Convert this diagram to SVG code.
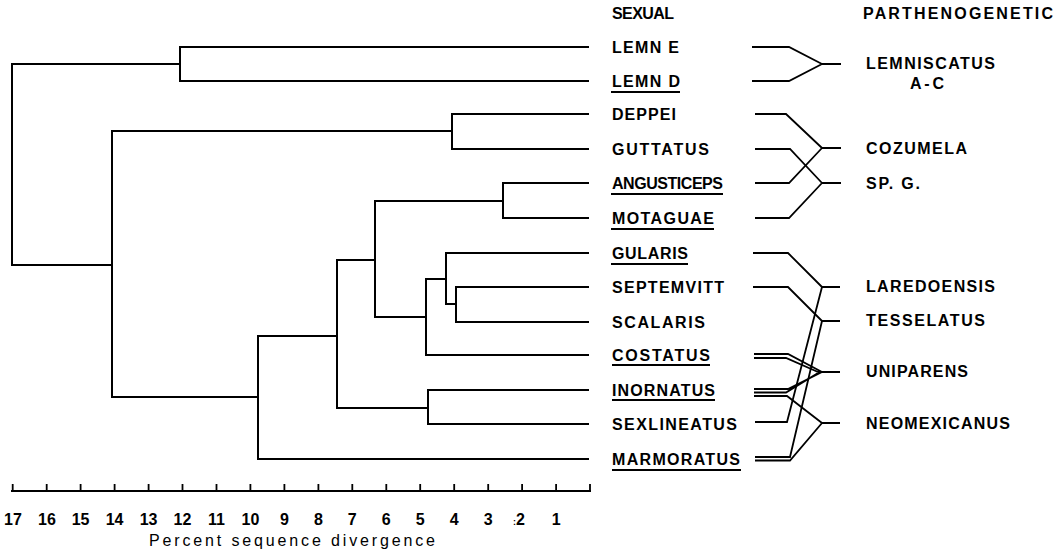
<svg xmlns="http://www.w3.org/2000/svg" width="1056" height="555" viewBox="0 0 1056 555">
<style>
.ln{fill:none;stroke:#000;stroke-width:2;stroke-linejoin:miter;stroke-linecap:square}
.cn{fill:none;stroke:#000;stroke-width:1.8;stroke-linejoin:miter}
.ul{fill:none;stroke:#000;stroke-width:1.8}
text{font-family:"Liberation Sans",Arial,sans-serif;font-weight:bold;font-size:16px;fill:#000}
.ax{text-anchor:middle;font-size:16px}
.tt{font-weight:normal;font-size:16px}
</style>
<rect width="1056" height="555" fill="#fff"/>
<g id="connectors">
<g id="tree">
<path class="ln" d="M12,64 V265 M12,64 H180 M12,265 H112"/>
<path class="ln" d="M180,47 V81 M180,47 H588 M180,81 H588"/>
<path class="ln" d="M112,131 V397 M112,131 H452 M112,397 H258"/>
<path class="ln" d="M452,114 V149 M452,114 H588 M452,149 H588"/>
<path class="ln" d="M258,336 V459 M258,336 H337 M258,459 H588"/>
<path class="ln" d="M337,260 V408 M337,260 H375 M337,408 H428"/>
<path class="ln" d="M428,390 V424 M428,390 H588 M428,424 H588"/>
<path class="ln" d="M375,201 V317 M375,201 H503 M375,317 H426"/>
<path class="ln" d="M503,183 V218 M503,183 H588 M503,218 H588"/>
<path class="ln" d="M426,279 V355 M426,279 H446 M426,355 H588"/>
<path class="ln" d="M446,253 V304 M446,253 H588 M446,304 H456"/>
<path class="ln" d="M456,287 V322 M456,287 H588 M456,322 H588"/>
</g>
<g id="hybrids">
<path class="cn" d="M752,47 H789 L822,64 M752,81 H789 L822,64 M822,64 H841"/>
<path class="cn" d="M755,114 H786 L822,148 M755,183 H789 L822,148 M822,148 H841"/>
<path class="cn" d="M755,149 H790 L822,183 M755,218 H789 L822,183 M822,183 H841"/>
<path class="cn" d="M753,253 H788 L822,287 M755,422 H787 L822,287 M822,287 H840"/>
<path class="cn" d="M753,287 H788 L822,321 M755,457 H790 L822,321 M822,321 H840"/>
<path class="cn" d="M754,354 H788 L822,372 M754,358 H786 L818,372 M754,389 H788 L822,372 M754,392.5 H786 L818,373 M818,372 H840"/>
<path class="cn" d="M754,396 H787 L822,423 M755,460.5 H790 L822,423 M822,423 H840"/>
</g>
<g id="axis">
<path class="ln" d="M12,491 H590"/>
<path class="cn" d="M12.7,491 V484 M46.7,491 V484 M80.6,491 V484 M114.6,491 V484 M148.6,491 V484 M182.5,491 V484 M216.5,491 V484 M250.4,491 V484 M284.4,491 V484 M318.4,491 V484 M352.3,491 V484 M386.3,491 V484 M420.2,491 V484 M454.2,491 V484 M488.2,491 V484 M522.1,491 V484 M556.1,491 V484 M590,491 V484"/>
</g>
</g>
<g id="axis-labels">
<text class="ax" x="13" y="525">17</text>
<text class="ax" x="47" y="525">16</text>
<text class="ax" x="80.6" y="525">15</text>
<text class="ax" x="114.6" y="525">14</text>
<text class="ax" x="148.6" y="525">13</text>
<text class="ax" x="182.5" y="525">12</text>
<text class="ax" x="216.5" y="525">11</text>
<text class="ax" x="250.4" y="525">10</text>
<text class="ax" x="284.4" y="525">9</text>
<text class="ax" x="318.4" y="525">8</text>
<text class="ax" x="352.3" y="525">7</text>
<text class="ax" x="386.3" y="525">6</text>
<text class="ax" x="420.2" y="525">5</text>
<text class="ax" x="454.2" y="525">4</text>
<text class="ax" x="488.2" y="525">3</text>
<text class="ax" x="519" y="525"><tspan font-size="9">:</tspan>2</text>
<text class="ax" x="556.1" y="525">1</text>
<text class="tt" x="149" y="546" textLength="286" lengthAdjust="spacing">Percent  sequence  divergence</text>
</g>
<g id="headers">
<text x="612" y="19" textLength="62" lengthAdjust="spacing">SEXUAL</text>
<text x="863" y="19" textLength="190" lengthAdjust="spacing">PARTHENOGENETIC</text>
</g>
<g id="lemn-e"><text x="612" y="52.5" textLength="67" lengthAdjust="spacing">LEMN  E</text></g>
<g id="lemn-d"><text x="612" y="86.5" textLength="68" lengthAdjust="spacing">LEMN  D</text><path class="ul" d="M611,92 H680"/></g>
<g id="deppei"><text x="612" y="119.5" textLength="64" lengthAdjust="spacing">DEPPEI</text></g>
<g id="guttatus"><text x="612" y="154.5" textLength="97" lengthAdjust="spacing">GUTTATUS</text></g>
<g id="angusticeps"><text x="612" y="188.5" textLength="111" lengthAdjust="spacing">ANGUSTICEPS</text><path class="ul" d="M611,194 H723"/></g>
<g id="motaguae"><text x="612" y="223.5" textLength="102" lengthAdjust="spacing">MOTAGUAE</text><path class="ul" d="M611,229 H714"/></g>
<g id="gularis"><text x="612" y="258.5" textLength="76" lengthAdjust="spacing">GULARIS</text><path class="ul" d="M611,264 H688"/></g>
<g id="septemvitt"><text x="612" y="292.5" textLength="112" lengthAdjust="spacing">SEPTEMVITT</text></g>
<g id="scalaris"><text x="612" y="327.5" textLength="93" lengthAdjust="spacing">SCALARIS</text></g>
<g id="costatus"><text x="612" y="360.5" textLength="98" lengthAdjust="spacing">COSTATUS</text><path class="ul" d="M612,365 H710"/></g>
<g id="inornatus"><text x="612" y="395.5" textLength="103" lengthAdjust="spacing">INORNATUS</text><path class="ul" d="M612,400 H715"/></g>
<g id="sexlineatus"><text x="612" y="429.5" textLength="125" lengthAdjust="spacing">SEXLINEATUS</text></g>
<g id="marmoratus"><text x="612" y="464.5" textLength="128" lengthAdjust="spacing">MARMORATUS</text><path class="ul" d="M612,470 H741"/></g>
<g id="lemniscatus"><text x="866" y="68.5" textLength="129" lengthAdjust="spacing">LEMNISCATUS</text><text x="910" y="88.5" textLength="34" lengthAdjust="spacing">A-C</text></g>
<g id="cozumela"><text x="866" y="153.5" textLength="101" lengthAdjust="spacing">COZUMELA</text></g>
<g id="spg"><text x="866" y="188.5" textLength="54" lengthAdjust="spacing">SP. G.</text></g>
<g id="laredoensis"><text x="866" y="291.5" textLength="129" lengthAdjust="spacing">LAREDOENSIS</text></g>
<g id="tesselatus"><text x="866" y="325.5" textLength="119" lengthAdjust="spacing">TESSELATUS</text></g>
<g id="uniparens"><text x="866" y="376.5" textLength="102" lengthAdjust="spacing">UNIPARENS</text></g>
<g id="neomexicanus"><text x="866" y="428.5" textLength="144" lengthAdjust="spacing">NEOMEXICANUS</text></g>
</svg>
